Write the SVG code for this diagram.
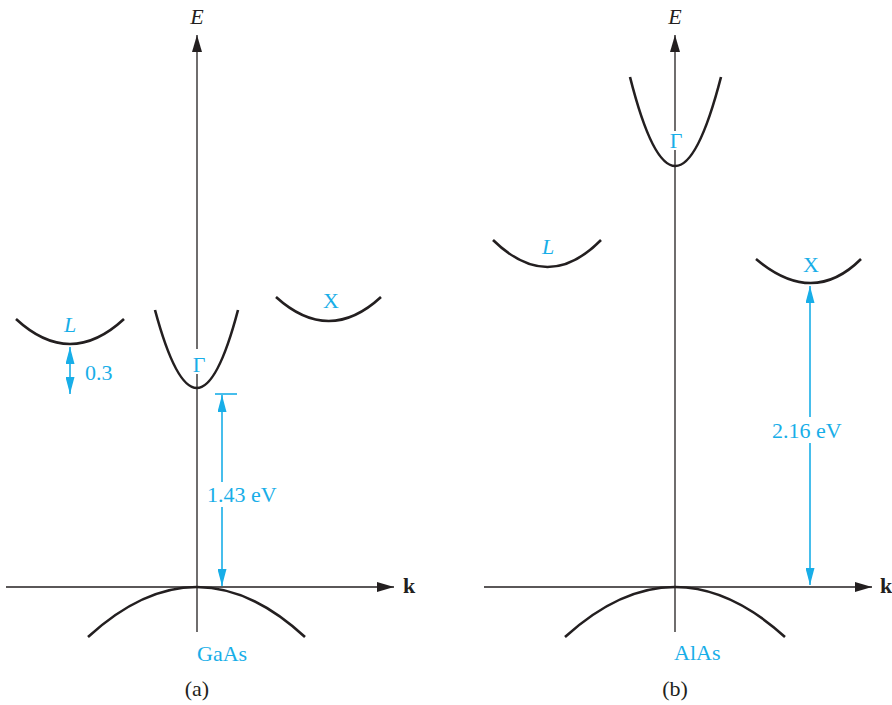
<svg xmlns="http://www.w3.org/2000/svg" width="892" height="705" viewBox="0 0 892 705">
<defs>
<style>
.axis{stroke:#231f20;stroke-width:1.3;fill:none}
.band{stroke:#231f20;stroke-width:2.6;fill:none;stroke-linecap:butt}
.dim{stroke:#18aee8;stroke-width:1.6;fill:none}
.lbl{font-family:"Liberation Serif",serif;font-size:22px;fill:#18aee8}
.it{font-style:italic}
.blk{font-family:"Liberation Serif",serif;font-size:22px;fill:#231f20}
</style>
<marker id="ah" viewBox="0 0 10 10" refX="10" refY="5" markerWidth="17" markerHeight="10" markerUnits="userSpaceOnUse" orient="auto" preserveAspectRatio="none"><path d="M0,0 L10,5 L0,10 z" fill="#231f20"/></marker>
<marker id="bh" viewBox="0 0 10 10" refX="10" refY="5" markerWidth="17" markerHeight="9" markerUnits="userSpaceOnUse" orient="auto-start-reverse" preserveAspectRatio="none"><path d="M0,0 L10,5 L0,10 z" fill="#18aee8"/></marker>
</defs>

<g id="connectors">
<!-- panel a axes -->
<line class="axis" x1="197" y1="349" x2="197" y2="35" marker-end="url(#ah)"/>
<line class="axis" x1="197" y1="374" x2="197" y2="632"/>
<line class="axis" x1="6" y1="587" x2="394" y2="587" marker-end="url(#ah)"/>
<!-- panel b axes -->
<line class="axis" x1="675" y1="131" x2="675" y2="35" marker-end="url(#ah)"/>
<line class="axis" x1="675" y1="150" x2="675" y2="632"/>
<line class="axis" x1="484" y1="587" x2="872" y2="587" marker-end="url(#ah)"/>
<!-- dimension arrows -->
<line class="dim" x1="70" y1="347" x2="70" y2="394" marker-start="url(#bh)" marker-end="url(#bh)"/>
<line class="dim" x1="215" y1="394" x2="237" y2="394"/>
<line class="dim" x1="222" y1="482" x2="222" y2="395" marker-end="url(#bh)"/>
<line class="dim" x1="222" y1="507" x2="222" y2="586" marker-end="url(#bh)"/>
<line class="dim" x1="810" y1="417" x2="810" y2="286" marker-end="url(#bh)"/>
<line class="dim" x1="810" y1="443" x2="810" y2="585" marker-end="url(#bh)"/>
</g>

<g id="panel-a">
<g id="a-gamma"><path class="band" d="M155,310 Q197,466 238,310"/><text class="lbl" x="199" y="372" text-anchor="middle">Γ</text></g>
<g id="a-L"><path class="band" d="M16,319 Q70,369 124,319"/><text class="lbl it" x="70" y="332" text-anchor="middle">L</text></g>
<g id="a-X"><path class="band" d="M276,297 Q329,345 381,297"/><text class="lbl" x="331" y="308" text-anchor="middle">X</text></g>
<g id="a-valence"><path class="band" d="M88,637 Q197,537 305,637"/></g>
<text class="lbl" x="85" y="380">0.3</text>
<text class="lbl" x="207" y="502">1.43 eV</text>
<text class="blk it" x="197" y="24" text-anchor="middle">E</text>
<text class="blk" x="403" y="593" font-weight="bold">k</text>
<text class="lbl" x="197" y="661">GaAs</text>
<text class="blk" x="197" y="696" text-anchor="middle">(a)</text>
</g>

<g id="panel-b">
<g id="b-gamma"><path class="band" d="M630,77 Q675,255 721,77"/><text class="lbl" x="676" y="148" text-anchor="middle">Γ</text></g>
<g id="b-L"><path class="band" d="M493,240 Q548,294 601,240"/><text class="lbl it" x="548" y="254" text-anchor="middle">L</text></g>
<g id="b-X"><path class="band" d="M756,259 Q813,307 861,259"/><text class="lbl" x="811" y="272" text-anchor="middle">X</text></g>
<g id="b-valence"><path class="band" d="M565,637 Q675,537 785,637"/></g>
<text class="lbl" x="772" y="438">2.16 eV</text>
<text class="blk it" x="675" y="24" text-anchor="middle">E</text>
<text class="blk" x="880" y="593" font-weight="bold">k</text>
<text class="lbl" x="674" y="660">AlAs</text>
<text class="blk" x="675" y="696" text-anchor="middle">(b)</text>
</g>
</svg>
